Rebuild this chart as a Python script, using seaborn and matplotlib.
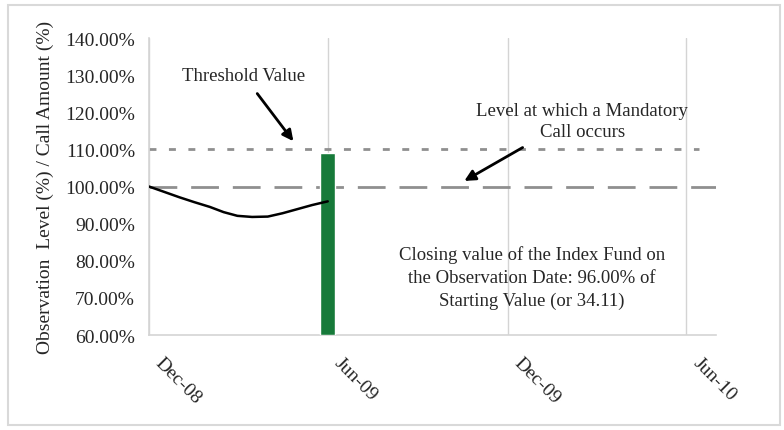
import pandas as pd
import matplotlib.pyplot as plt
import matplotlib.dates as mdates
import matplotlib.transforms as mtransforms
import seaborn as sns
from matplotlib.patches import Rectangle
from matplotlib.ticker import FuncFormatter

# --- data ---
obs_dates = ['2008-12-01', '2008-12-16', '2009-01-01', '2009-01-16', '2009-02-01',
             '2009-02-15', '2009-03-01', '2009-03-16', '2009-04-01', '2009-04-16',
             '2009-05-01', '2009-05-16', '2009-06-01']
obs_level = [100.0, 98.6, 97.1, 95.8, 94.5, 93.1, 92.1, 91.8, 91.9, 92.8,
             93.9, 95.0, 96.0]

call_date = ['2009-06-01']
call_amount = [109.0]

threshold_level = 110.0
call_level = 100.0

x_ticks = ['2008-12-01', '2009-06-01', '2009-12-01', '2010-06-01']
y_ticks = [60, 70, 80, 90, 100, 110, 120, 130, 140]

df = pd.DataFrame({'date': pd.to_datetime(obs_dates), 'level': obs_level})

sns.set_theme(style="white")
plt.rcParams['font.family'] = ['Liberation Serif', 'DejaVu Serif']
plt.rcParams['font.size'] = 14

fig = plt.figure(figsize=(7.84, 4.31), dpi=100)
ax = fig.add_axes([0.190, 0.2204, 0.723, 0.6891])

# outer frame of the picture
fig.patches.append(Rectangle((0.010, 0.012), 0.985, 0.973, transform=fig.transFigure,
                             fill=False, edgecolor='#d9d9d9', linewidth=1.5))

start = pd.Timestamp('2008-12-01')
end = pd.Timestamp('2010-07-01')

# reference lines
ax.plot([start, pd.Timestamp('2010-06-14')], [threshold_level, threshold_level],
        color='#8f8f8f', linewidth=2, linestyle=(0, (2.5, 4.5)), zorder=2)
ax.plot([start, end], [call_level, call_level],
        color='#8f8f8f', linewidth=2, linestyle=(0, (10, 5)), zorder=2)

# call amount bar
ax.bar(pd.to_datetime(call_date), [v - 60 for v in call_amount], bottom=60,
       width=15, color='#177a3a', zorder=3)

# observation level
sns.lineplot(data=df, x='date', y='level', color='black', linewidth=1.8, ax=ax, zorder=4)

ax.set_xlim(start, end)
ax.set_ylim(60, 140)
ax.set_xticks(pd.to_datetime(x_ticks))
ax.xaxis.set_major_formatter(mdates.DateFormatter('%b-%y'))
ax.set_yticks(y_ticks)
ax.yaxis.set_major_formatter(FuncFormatter(lambda v, _: f'{v:.2f}%'))

ax.grid(axis='x', color='#d4d4d4', linewidth=1)
ax.grid(axis='y', visible=False)
for side in ['top', 'right']:
    ax.spines[side].set_visible(False)
for side in ['left', 'bottom']:
    ax.spines[side].set_color('#d4d4d4')
    ax.spines[side].set_linewidth(1.2)
ax.tick_params(axis='both', length=4, color='#d4d4d4', width=1, pad=6)
ax.tick_params(axis='x', pad=14)

# slanted date labels, nudged a little to the right like the original
# (done after tick_params, which would reset the transform)
shift = mtransforms.ScaledTranslation(0.09, 0.0, fig.dpi_scale_trans)
for tick in ax.xaxis.get_major_ticks():
    label = tick.label1
    label.set_rotation(-45)
    label.set_ha('left')
    label.set_va('center')
    label.set_rotation_mode('anchor')
    label.set_fontsize(14)
    label.set_transform(label.get_transform() + shift)
for label in ax.get_yticklabels():
    label.set_fontsize(14)

ax.set_xlabel('')
ax.set_ylabel('Observation  Level (%) / Call Amount (%)', fontsize=14, labelpad=8)

# annotations
arrow = dict(arrowstyle='-|>', color='black', lw=2, shrinkB=0, mutation_scale=16)
ax.annotate('Threshold Value', xy=(pd.Timestamp('2009-04-27'), 112.2),
            xytext=(pd.Timestamp('2009-03-07'), 130.0),
            ha='center', va='center', fontsize=13.5,
            arrowprops=dict(arrow, shrinkA=6))
ax.annotate('Level at which a Mandatory\nCall occurs', xy=(pd.Timestamp('2009-10-18'), 101.5),
            xytext=(pd.Timestamp('2010-02-15'), 117.6),
            ha='center', va='center', fontsize=13.5, linespacing=1.3,
            arrowprops=dict(arrow, shrinkA=6, relpos=(0.28, 0.0)))
ax.text(pd.Timestamp('2009-12-26'), 75.6, 'Closing value of the Index Fund on\n'
        'the Observation Date: 96.00% of\nStarting Value (or 34.11)',
        ha='center', va='center', fontsize=13.5, linespacing=1.45)

fig.savefig('out.png', dpi=100)
